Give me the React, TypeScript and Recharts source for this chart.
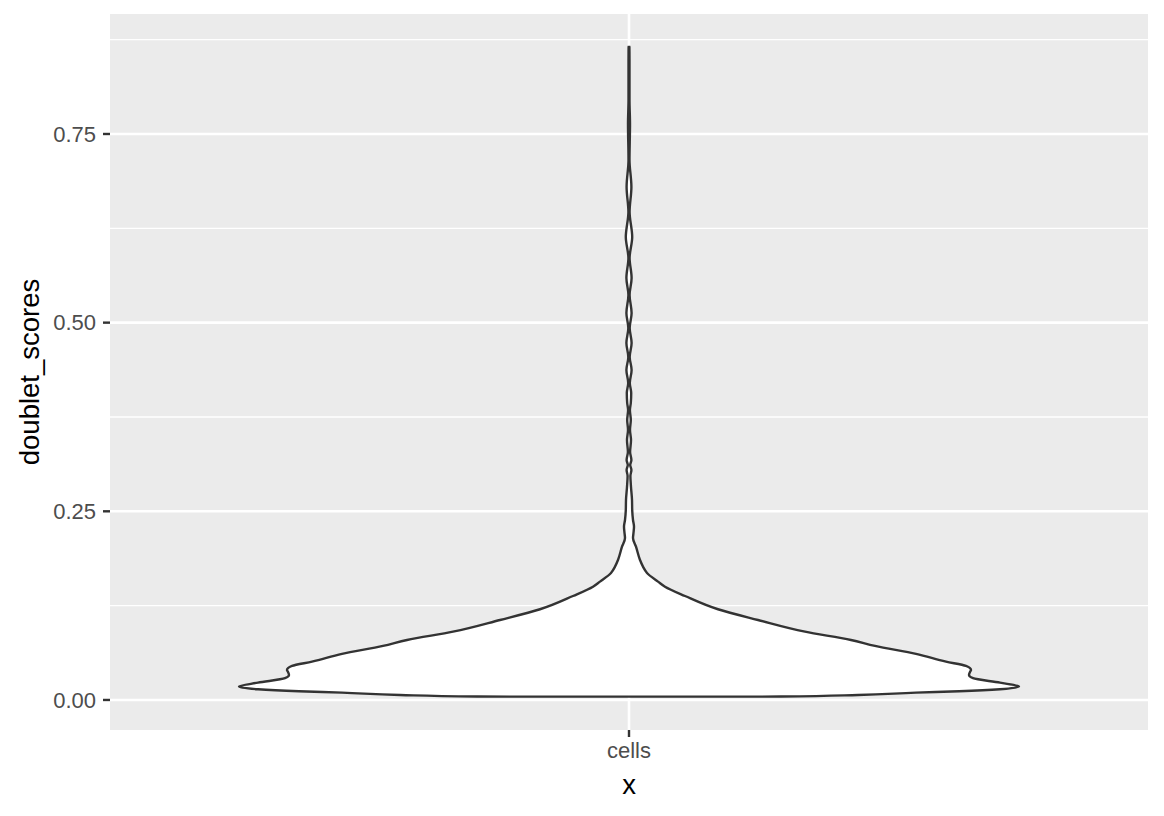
import {
  ComposedChart,
  Area,
  XAxis,
  YAxis,
  CartesianGrid,
  Label,
} from "recharts";

// violin outline for doublet_scores (bottom -> top)
const violinScore = [
  0.0044, 0.0045, 0.0066, 0.0097, 0.0115, 0.0142, 0.0179, 0.0229, 0.0288,
  0.0331, 0.0371, 0.0398, 0.0451, 0.0508, 0.061, 0.0716, 0.0795, 0.0905,
  0.106, 0.1202, 0.1378, 0.1501, 0.1568, 0.1683, 0.1766, 0.1855, 0.2031,
  0.2147, 0.2213, 0.2296, 0.2385, 0.2518, 0.265, 0.2822, 0.2968, 0.3048,
  0.3114, 0.318, 0.3286, 0.3445, 0.3578, 0.371, 0.3843, 0.3935, 0.4068,
  0.4201, 0.4373, 0.4545, 0.4731, 0.4929, 0.5128, 0.5367, 0.5592, 0.5857,
  0.6135, 0.6466, 0.6798, 0.7155, 0.7632, 0.795, 0.8481, 0.8653, 0.8666,
];
const violinHalfWidth = [
  0, 152, 229, 287, 330, 371, 390, 371, 344, 340, 341, 342, 337, 317, 287,
  246, 222, 176, 129, 89, 56, 36, 29, 18, 14, 11, 7, 4, 4.5, 5, 4, 3.2, 3,
  2, 1.4, 2.4, 1.2, 2.4, 1.1, 2, 1, 1.8, 0.9, 1.8, 2.2, 0.8, 2.6, 0.7, 2.6,
  0.7, 2.6, 0.6, 2.6, 0.6, 3.2, 0.6, 2.4, 0.5, 1, 0.5, 0.5, 0.4, 0,
];
const categories = ["cells"];
const majorTicks = [0, 0.25, 0.5, 0.75];
const minorTicks = [0.125, 0.375, 0.625, 0.875];

const data = violinScore.map((v, i) => ({ v, w: violinHalfWidth[i] }));

const X_DOMAIN: [number, number] = [-519, 519];
const Y_DOMAIN: [number, number] = [-0.0398, 0.909];
const FONT = "'Liberation Sans', Arial, Helvetica, sans-serif";

const yTitle = (props: any) => {
  const vb = props.viewBox || { x: 0, y: 14, width: 110, height: 716 };
  const cx = vb.x + 29;
  const cy = vb.y + vb.height / 2;
  return (
    <text
      x={cx}
      y={cy}
      transform={`rotate(-90, ${cx}, ${cy})`}
      textAnchor="middle"
      dominantBaseline="central"
      fontSize={27.5}
      fill="#000000"
      fontFamily={FONT}
    >
      doublet_scores
    </text>
  );
};

const xTitle = (props: any) => {
  const vb = props.viewBox || { x: 110, y: 730, width: 1038, height: 86 };
  return (
    <text
      x={vb.x + vb.width / 2}
      y={vb.y + 64}
      textAnchor="middle"
      fontSize={27.5}
      fill="#000000"
      fontFamily={FONT}
    >
      x
    </text>
  );
};

export default function App() {
  return (
    <div style={{ position: "absolute", left: 0, top: 0, fontFamily: FONT }}>
      <ComposedChart
        layout="vertical"
        width={1164}
        height={816}
        data={data}
        margin={{ top: 14, right: 16, bottom: 0, left: 0 }}
      >
        <CartesianGrid
          fill="#EBEBEB"
          stroke="#FFFFFF"
          strokeWidth={1.3}
          vertical={false}
          horizontalValues={minorTicks}
        />
        <CartesianGrid
          stroke="#FFFFFF"
          strokeWidth={2.6}
          horizontalValues={majorTicks}
          verticalValues={[0]}
        />
        <XAxis
          type="number"
          dataKey="w"
          domain={X_DOMAIN}
          allowDataOverflow
          ticks={[0]}
          tickFormatter={() => categories[0]}
          height={86}
          axisLine={false}
          tickLine={{ stroke: "#333333", strokeWidth: 2.4 }}
          tickSize={7}
          tickMargin={5}
          tick={{ fill: "#4D4D4D", fontSize: 22, fontFamily: FONT }}
        >
          <Label content={xTitle} />
        </XAxis>
        <YAxis
          type="number"
          dataKey="v"
          domain={Y_DOMAIN}
          reversed
          allowDataOverflow
          ticks={majorTicks}
          tickFormatter={(t: number) => t.toFixed(2)}
          width={110}
          axisLine={false}
          tickLine={{ stroke: "#333333", strokeWidth: 2.4 }}
          tickSize={7}
          tickMargin={7}
          tick={{ fill: "#4D4D4D", fontSize: 22, fontFamily: FONT }}
        >
          <Label content={yTitle} />
        </YAxis>
        <Area
          type="monotone"
          dataKey={(d: { w: number }) => [-d.w, d.w]}
          stroke="#333333"
          strokeWidth={2.4}
          fill="#FFFFFF"
          fillOpacity={1}
          dot={false}
          activeDot={false}
          isAnimationActive={false}
        />
      </ComposedChart>
    </div>
  );
}
